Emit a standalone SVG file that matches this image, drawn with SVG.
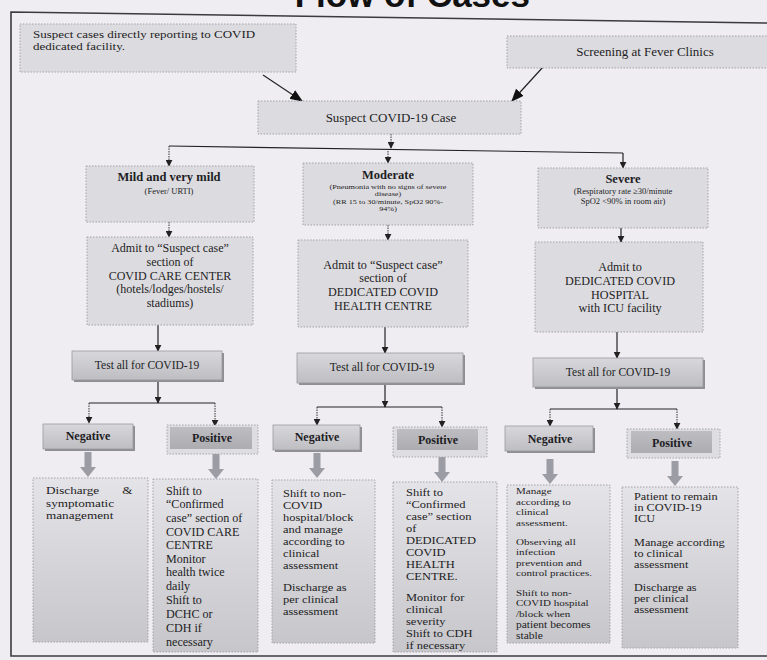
<svg xmlns="http://www.w3.org/2000/svg" xmlns:xlink="http://www.w3.org/1999/xlink" width="767" height="660" viewBox="0 0 767 660">
<style>
text{font-family:"Liberation Serif","Times New Roman",serif;fill:#1e1e24}
.c{text-anchor:middle}
.b{font-weight:bold}
.box{fill:#dcdbe0;stroke:#a2a2a8;stroke-width:1;stroke-dasharray:1.5 1.5}
.shade{fill:url(#gt);stroke:#9a9aa0;stroke-width:0.8}
.shadow{fill:#8e8e94}
.pout{fill:#dedde2;stroke:#a6a6ac;stroke-width:1;stroke-dasharray:1.5 1.5}
.pin{fill:url(#gp)}
.bot{fill:url(#gb);stroke:#a2a2a8;stroke-width:1;stroke-dasharray:1.5 1.5}
.ln{fill:none;stroke:#222;stroke-width:1.2}
.lnd{fill:none;stroke:#333;stroke-width:1;stroke-dasharray:1.5 1}
.frame{fill:none;stroke:#3a3a40;stroke-width:1.6}
.blk{fill:#9c9ca4}
</style>
<defs>
<linearGradient id="gt" x1="0" y1="0" x2="0" y2="1"><stop offset="0" stop-color="#d8d8dc"/><stop offset="1" stop-color="#bdbdc2"/></linearGradient>
<linearGradient id="gp" x1="0" y1="0" x2="0" y2="1"><stop offset="0" stop-color="#bdbdc2"/><stop offset="1" stop-color="#acacb1"/></linearGradient>
<linearGradient id="gb" x1="0" y1="0" x2="0" y2="1"><stop offset="0" stop-color="#e4e3e8"/><stop offset="1" stop-color="#c6c6cb"/></linearGradient>
<marker id="ah" viewBox="0 0 10 10" refX="9" refY="5" markerWidth="7" markerHeight="7" markerUnits="userSpaceOnUse" orient="auto"><path d="M0,0 L10,5 L0,10 z" fill="#222"/></marker>
<marker id="ahb" viewBox="0 0 10 10" refX="9" refY="5" markerWidth="13" markerHeight="13" markerUnits="userSpaceOnUse" orient="auto"><path d="M0,1 L10,5 L0,9 z" fill="#111"/></marker>
<path id="blkarrow" d="M-3.5,0 L3.5,0 L3.5,15 L8,15 L0,25 L-8,15 L-3.5,15 z"/>
</defs>
<rect x="0" y="0" width="767" height="660" fill="#efedf2"/>
<text x="530" y="7" style="font-family:'Liberation Sans',Arial,sans-serif;font-size:35px;font-weight:bold;text-anchor:end;fill:#111">Flow of Cases</text>
<path class="frame" d="M767,23 L11,12 L11,656 L767,656"/>

<g id="connectors">
<line class="ln" x1="263" y1="75" x2="302" y2="101" marker-end="url(#ahb)"/>
<line class="ln" x1="543" y1="67" x2="512" y2="101" marker-end="url(#ahb)"/>
<line class="lnd" x1="391" y1="134" x2="391" y2="148" marker-end="url(#ah)"/>
<path class="ln" d="M169,146 L623,153"/>
<line class="lnd" x1="169" y1="146" x2="169" y2="166" marker-end="url(#ah)"/>
<line class="lnd" x1="388" y1="151" x2="388" y2="163" marker-end="url(#ah)"/>
<line class="ln" x1="623" y1="153" x2="623" y2="168" marker-end="url(#ah)"/>
<line class="lnd" x1="169" y1="222" x2="169" y2="237" marker-end="url(#ah)"/>
<line class="lnd" x1="388" y1="225" x2="388" y2="240" marker-end="url(#ah)"/>
<line class="ln" x1="621" y1="228" x2="621" y2="242" marker-end="url(#ah)"/>
<line class="ln" x1="158" y1="325" x2="158" y2="351" marker-end="url(#ah)"/>
<line class="ln" x1="385" y1="327" x2="385" y2="353" marker-end="url(#ah)"/>
<line class="ln" x1="617" y1="332" x2="617" y2="358" marker-end="url(#ah)"/>
<line class="ln" x1="158" y1="380" x2="158" y2="403" marker-end="url(#ah)"/>
<line class="ln" x1="385" y1="383" x2="385" y2="407" marker-end="url(#ah)"/>
<line class="ln" x1="617" y1="387" x2="617" y2="409" marker-end="url(#ah)"/>
<path class="ln" d="M89,403 L215,403 M317,407 L442,407 M550,409 L677,409" style="stroke-width:1"/>
<line class="lnd" x1="89" y1="403" x2="89" y2="423" marker-end="url(#ah)"/>
<line class="lnd" x1="215" y1="403" x2="215" y2="426" marker-end="url(#ah)"/>
<line class="lnd" x1="317" y1="407" x2="317" y2="425" marker-end="url(#ah)"/>
<line class="lnd" x1="442" y1="407" x2="442" y2="427" marker-end="url(#ah)"/>
<line class="lnd" x1="550" y1="409" x2="550" y2="426" marker-end="url(#ah)"/>
<line class="lnd" x1="677" y1="409" x2="677" y2="429" marker-end="url(#ah)"/>
<use xlink:href="#blkarrow" class="blk" x="88" y="452"/>
<use xlink:href="#blkarrow" class="blk" x="216" y="454"/>
<use xlink:href="#blkarrow" class="blk" x="317" y="453"/>
<use xlink:href="#blkarrow" class="blk" x="442" y="457"/>
<use xlink:href="#blkarrow" class="blk" x="550" y="459"/>
<use xlink:href="#blkarrow" class="blk" x="675" y="461"/>
</g>

<g id="src-direct">
<rect class="box" x="20" y="24" width="276" height="48"/>
<g transform="translate(33,0) scale(1.18,1)" style="font-size:11px">
<text x="0" y="38">Suspect cases directly reporting to COVID</text>
<text x="0" y="50">dedicated facility.</text>
</g>
</g>
<g id="src-fever">
<rect class="box" x="507" y="36" width="262" height="32"/>
<text class="c" x="645" y="56" style="font-size:13px">Screening at Fever Clinics</text>
</g>
<g id="suspect">
<rect class="box" x="258" y="101" width="263" height="33"/>
<text class="c" x="391" y="122" style="font-size:13px">Suspect COVID-19 Case</text>
</g>

<g id="mild">
<rect class="box" x="86" y="166" width="168" height="56"/>
<text class="b c" x="169" y="181" style="font-size:12.5px">Mild and very mild</text>
<text class="c" x="169" y="194" style="font-size:8.5px">(Fever/ URTI)</text>
</g>
<g id="moderate">
<rect class="box" x="303" y="163" width="170" height="62"/>
<text class="b c" x="388" y="179" style="font-size:12.5px">Moderate</text>
<g transform="translate(388,0) scale(1.3,1)" style="font-size:6.3px">
<text class="c" x="0" y="189">(Pneumonia with no signs of severe</text>
<text class="c" x="0" y="196.5">disease)</text>
<text class="c" x="0" y="204">(RR 15 to 30/minute, SpO2 90%-</text>
<text class="c" x="0" y="211.5">94%)</text>
</g>
</g>
<g id="severe">
<rect class="box" x="538" y="168" width="170" height="60"/>
<text class="b c" x="623" y="183" style="font-size:12.5px">Severe</text>
<text class="c" x="623" y="194" style="font-size:8.5px">(Respiratory rate ≥30/minute</text>
<text class="c" x="623" y="204" style="font-size:8.5px">SpO2 &lt;90% in room air)</text>
</g>

<g id="admit-ccc" style="font-size:12px">
<rect class="box" x="87" y="237" width="166" height="88"/>
<text class="c" x="170" y="252">Admit to “Suspect case”</text>
<text class="c" x="170" y="266">section of</text>
<text class="c" x="170" y="280">COVID CARE CENTER</text>
<text class="c" x="170" y="293">(hotels/lodges/hostels/</text>
<text class="c" x="170" y="307">stadiums)</text>
</g>
<g id="admit-dchc" style="font-size:11.5px">
<rect class="box" x="298" y="240" width="170" height="87"/>
<g transform="translate(383,0) scale(1.06,1)">
<text class="c" x="0" y="269">Admit to “Suspect case”</text>
<text class="c" x="0" y="282">section of</text>
<text class="c" x="0" y="296">DEDICATED COVID</text>
<text class="c" x="0" y="310">HEALTH CENTRE</text>
</g>
</g>
<g id="admit-dch" style="font-size:11.5px">
<rect class="box" x="535" y="242" width="168" height="90"/>
<g transform="translate(620,0) scale(1.06,1)">
<text class="c" x="0" y="271">Admit to</text>
<text class="c" x="0" y="285">DEDICATED COVID</text>
<text class="c" x="0" y="299">HOSPITAL</text>
<text class="c" x="0" y="312">with ICU facility</text>
</g>
</g>

<g id="test-1">
<rect class="shadow" x="74" y="353" width="150" height="29"/>
<rect class="shade" x="72" y="351" width="150" height="29"/>
<text class="c" x="147" y="369" style="font-size:11.5px">Test all for COVID-19</text>
</g>
<g id="test-2">
<rect class="shadow" x="299" y="355" width="166" height="30"/>
<rect class="shade" x="297" y="353" width="166" height="30"/>
<text class="c" x="382" y="371" style="font-size:11.5px">Test all for COVID-19</text>
</g>
<g id="test-3">
<rect class="shadow" x="535" y="360" width="170" height="29"/>
<rect class="shade" x="533" y="358" width="170" height="29"/>
<text class="c" x="618" y="376" style="font-size:11.5px">Test all for COVID-19</text>
</g>

<g id="neg-1">
<rect class="shadow" x="45" y="426" width="90" height="25"/>
<rect class="shade" x="43" y="424" width="90" height="25"/>
<text class="b c" x="88" y="440" style="font-size:12px">Negative</text>
</g>
<g id="pos-1">
<rect class="pout" x="167" y="425" width="91" height="29"/>
<rect class="pin" x="170" y="427" width="82" height="22"/>
<text class="b c" x="212" y="442" style="font-size:12px">Positive</text>
</g>
<g id="neg-2">
<rect class="shadow" x="275" y="427" width="87" height="25"/>
<rect class="shade" x="273" y="425" width="87" height="25"/>
<text class="b c" x="317" y="441" style="font-size:12px">Negative</text>
</g>
<g id="pos-2">
<rect class="pout" x="393" y="427" width="94" height="30"/>
<rect class="pin" x="397" y="429" width="81" height="21"/>
<text class="b c" x="438" y="444" style="font-size:12px">Positive</text>
</g>
<g id="neg-3">
<rect class="shadow" x="507" y="428" width="88" height="25"/>
<rect class="shade" x="505" y="426" width="88" height="25"/>
<text class="b c" x="550" y="443" style="font-size:12px">Negative</text>
</g>
<g id="pos-3">
<rect class="pout" x="627" y="429" width="93" height="29"/>
<rect class="pin" x="631" y="431" width="81" height="22"/>
<text class="b c" x="672" y="447" style="font-size:12px">Positive</text>
</g>

<g id="out-1">
<rect class="bot" x="33" y="478" width="115" height="164"/>
<g transform="translate(46,0) scale(1.2,1)" style="font-size:11px">
<text x="0" y="494">Discharge</text>
<text x="72" y="494" style="text-anchor:end">&amp;</text>
<text x="0" y="507">symptomatic</text>
<text x="0" y="519">management</text>
</g>
</g>
<g id="out-2">
<rect class="bot" x="153" y="479" width="105" height="173"/>
<g transform="translate(166,0) scale(1.05,1)" style="font-size:11.5px">
<text x="0" y="495">Shift to</text>
<text x="0" y="508.5">“Confirmed</text>
<text x="0" y="522">case” section of</text>
<text x="0" y="536">COVID CARE</text>
<text x="0" y="549.5">CENTRE</text>
<text x="0" y="563">Monitor</text>
<text x="0" y="576.5">health twice</text>
<text x="0" y="590">daily</text>
<text x="0" y="604">Shift to</text>
<text x="0" y="618">DCHC or</text>
<text x="0" y="632">CDH if</text>
<text x="0" y="646">necessary</text>
</g>
</g>
<g id="out-3">
<rect class="bot" x="272" y="480" width="103" height="163"/>
<g transform="translate(283,0) scale(1.22,1)" style="font-size:10.2px">
<text x="0" y="497">Shift to non-</text>
<text x="0" y="509">COVID</text>
<text x="0" y="521">hospital/block</text>
<text x="0" y="533">and manage</text>
<text x="0" y="545">according to</text>
<text x="0" y="557">clinical</text>
<text x="0" y="569">assessment</text>
<text x="0" y="591">Discharge as</text>
<text x="0" y="603">per clinical</text>
<text x="0" y="615">assessment</text>
</g>
</g>
<g id="out-4">
<rect class="bot" x="393" y="482" width="104" height="170"/>
<g transform="translate(406,0) scale(1.2,1)" style="font-size:10.4px">
<text x="0" y="496">Shift to</text>
<text x="0" y="508">“Confirmed</text>
<text x="0" y="520">case” section</text>
<text x="0" y="532">of</text>
<text x="0" y="544">DEDICATED</text>
<text x="0" y="556">COVID</text>
<text x="0" y="568">HEALTH</text>
<text x="0" y="580">CENTRE.</text>
<text x="0" y="601">Monitor for</text>
<text x="0" y="613">clinical</text>
<text x="0" y="625">severity</text>
<text x="0" y="637">Shift to CDH</text>
<text x="0" y="649">if necessary</text>
</g>
</g>
<g id="out-5">
<rect class="bot" x="507" y="485" width="103" height="158"/>
<g transform="translate(516,0) scale(1.2,1)" style="font-size:9.2px">
<text x="0" y="494">Manage</text>
<text x="0" y="505">according to</text>
<text x="0" y="515.5">clinical</text>
<text x="0" y="526">assessment.</text>
<text x="0" y="545">Observing all</text>
<text x="0" y="555.5">infection</text>
<text x="0" y="566">prevention and</text>
<text x="0" y="576.5">control practices.</text>
<text x="0" y="596">Shift to non-</text>
<text x="0" y="606.5">COVID hospital</text>
<text x="0" y="617">/block when</text>
<text x="0" y="628" style="font-size:9.6px">patient becomes</text>
<text x="0" y="639" style="font-size:9.6px">stable</text>
</g>
</g>
<g id="out-6">
<rect class="bot" x="622" y="487" width="116" height="161"/>
<g transform="translate(634,0) scale(1.25,1)" style="font-size:9.8px">
<text x="0" y="500">Patient to remain</text>
<text x="0" y="511">in COVID-19</text>
<text x="0" y="522">ICU</text>
<text x="0" y="546">Manage according</text>
<text x="0" y="557">to clinical</text>
<text x="0" y="568">assessment</text>
<text x="0" y="591">Discharge as</text>
<text x="0" y="602">per clinical</text>
<text x="0" y="613">assessment</text>
</g>
</g>
</svg>
